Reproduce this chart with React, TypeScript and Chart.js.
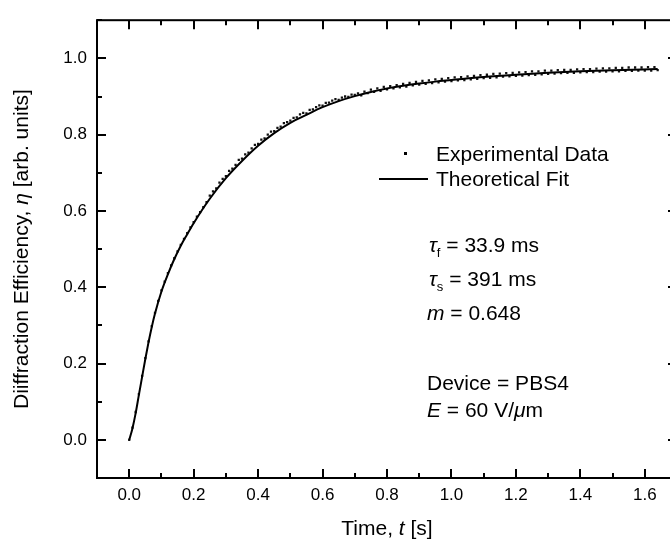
import React, { useEffect, useRef } from "react";
import { Chart, registerables } from "chart.js";

Chart.register(...registerables);

// ---- data ----
const fitTime = [0, 0.01, 0.02, 0.03, 0.04, 0.05, 0.06, 0.07, 0.08, 0.1, 0.12, 0.14, 0.16, 0.18, 0.2, 0.25, 0.3, 0.35, 0.4, 0.45, 0.5, 0.55, 0.6, 0.65, 0.7, 0.75, 0.8, 0.85, 0.9, 0.95, 1.0, 1.1, 1.2, 1.3, 1.4, 1.5, 1.64];
const fitValues = [0, 0.03, 0.07, 0.118, 0.165, 0.212, 0.256, 0.296, 0.331, 0.389, 0.434, 0.474, 0.509, 0.539, 0.568, 0.632, 0.686, 0.731, 0.771, 0.804, 0.831, 0.852, 0.872, 0.888, 0.901, 0.912, 0.921, 0.928, 0.934, 0.939, 0.943, 0.951, 0.957, 0.962, 0.966, 0.969, 0.972];

const expStart = 0;
const expStep = 0.01;
const expValues = [
  0.000, 0.032, 0.073, 0.120, 0.168, 0.214, 0.258, 0.298, 0.333, 0.364,
  0.392, 0.415, 0.437, 0.457, 0.476, 0.494, 0.511, 0.527, 0.542, 0.557,
  0.571, 0.585, 0.597, 0.610, 0.623,
  0.640, 0.651, 0.659, 0.674, 0.684, 0.691, 0.705, 0.711, 0.721, 0.734,
  0.737, 0.748, 0.753, 0.764, 0.773, 0.776, 0.787, 0.790, 0.800, 0.808,
  0.809, 0.818, 0.821, 0.830, 0.833, 0.837, 0.844, 0.845, 0.853, 0.857,
  0.856, 0.865, 0.866, 0.872, 0.877, 0.876, 0.883, 0.884, 0.889, 0.893,
  0.891, 0.897, 0.900, 0.899, 0.905, 0.904,
  0.908, 0.903, 0.913, 0.909, 0.918, 0.912, 0.921, 0.915, 0.925, 0.919,
  0.927, 0.921, 0.930, 0.924, 0.933, 0.926, 0.936, 0.929, 0.938, 0.931,
  0.941, 0.933, 0.942, 0.935, 0.945, 0.937, 0.946, 0.939, 0.948, 0.940,
  0.950, 0.942, 0.951, 0.943, 0.953, 0.945, 0.954, 0.946, 0.956, 0.948,
  0.957, 0.949, 0.959, 0.950, 0.960, 0.952, 0.961, 0.953, 0.962, 0.954,
  0.963, 0.955, 0.964, 0.956, 0.966, 0.957, 0.966, 0.958, 0.968, 0.959,
  0.968, 0.960, 0.969, 0.961, 0.970, 0.962, 0.970, 0.962, 0.971, 0.963,
  0.972, 0.964, 0.972, 0.964, 0.973, 0.965, 0.974, 0.965, 0.974, 0.966,
  0.975, 0.966, 0.975, 0.967, 0.976, 0.967, 0.976, 0.968, 0.976, 0.968,
  0.977, 0.968, 0.977, 0.969,
];

const xTickValues = [0, 0.2, 0.4, 0.6, 0.8, 1.0, 1.2, 1.4, 1.6];
const xMinorValues = [-0.1, 0.1, 0.3, 0.5, 0.7, 0.9, 1.1, 1.3, 1.5, 1.7];
const yTickValues = [0, 0.2, 0.4, 0.6, 0.8, 1.0];
const yMinorValues = [-0.1, 0.1, 0.3, 0.5, 0.7, 0.9, 1.1];

const legendLabels = ["Experimental Data", "Theoretical Fit"];

const FONT = '"Liberation Sans", Arial, Helvetica, sans-serif';

type Run = { text: string; font: string; dy?: number };

function runsWidth(ctx: CanvasRenderingContext2D, runs: Run[]) {
  let w = 0;
  for (const r of runs) {
    ctx.font = r.font;
    w += ctx.measureText(r.text).width;
  }
  return w;
}

function drawRuns(ctx: CanvasRenderingContext2D, runs: Run[], x: number, y: number, align: "left" | "center" = "left") {
  let cx = x;
  if (align === "center") cx = x - runsWidth(ctx, runs) / 2;
  ctx.textAlign = "left";
  ctx.textBaseline = "alphabetic";
  for (const r of runs) {
    ctx.font = r.font;
    ctx.fillText(r.text, cx, y + (r.dy || 0));
    cx += ctx.measureText(r.text).width;
  }
}

const framePlugin = {
  id: "framePlugin",
  afterDatasetsDraw(chart: any) {
    const ctx: CanvasRenderingContext2D = chart.ctx;
    const { left, right, top, bottom } = chart.chartArea;
    const xs = chart.scales.x;
    const ys = chart.scales.y;
    ctx.save();
    ctx.strokeStyle = "#000";
    ctx.fillStyle = "#000";
    ctx.lineWidth = 2;
    ctx.strokeRect(left, top, right - left, bottom - top);

    const major = 9;
    const minor = 5;
    ctx.beginPath();
    for (const v of xTickValues) {
      const p = Math.round(xs.getPixelForValue(v));
      ctx.moveTo(p, bottom); ctx.lineTo(p, bottom - major);
      ctx.moveTo(p, top); ctx.lineTo(p, top + major);
    }
    for (const v of xMinorValues) {
      const p = Math.round(xs.getPixelForValue(v));
      ctx.moveTo(p, bottom); ctx.lineTo(p, bottom - minor);
      ctx.moveTo(p, top); ctx.lineTo(p, top + minor);
    }
    for (const v of yTickValues) {
      const p = Math.round(ys.getPixelForValue(v));
      ctx.moveTo(left, p); ctx.lineTo(left + major, p);
      ctx.moveTo(right, p); ctx.lineTo(right - major, p);
    }
    for (const v of yMinorValues) {
      const p = Math.round(ys.getPixelForValue(v));
      ctx.moveTo(left, p); ctx.lineTo(left + minor, p);
      ctx.moveTo(right, p); ctx.lineTo(right - minor, p);
    }
    ctx.stroke();

    const f21 = `21px ${FONT}`;
    const i21 = `italic 21px ${FONT}`;
    const f13 = `13px ${FONT}`;

    // x title
    drawRuns(ctx, [
      { text: "Time, ", font: f21 },
      { text: "t", font: i21 },
      { text: " [s]", font: f21 },
    ], (left + right) / 2, 535, "center");

    // y title
    ctx.save();
    ctx.translate(28, (top + bottom) / 2);
    ctx.rotate(-Math.PI / 2);
    drawRuns(ctx, [
      { text: "Diiffraction Efficiency, ", font: f21 },
      { text: "\u03B7", font: i21 },
      { text: " [arb. units]", font: f21 },
    ], 0, 0, "center");
    ctx.restore();

    // legend
    ctx.fillRect(404, 152, 3, 3);
    ctx.lineWidth = 2;
    ctx.beginPath();
    ctx.moveTo(379, 179);
    ctx.lineTo(428, 179);
    ctx.stroke();
    drawRuns(ctx, [{ text: legendLabels[0], font: f21 }], 436, 161);
    drawRuns(ctx, [{ text: legendLabels[1], font: f21 }], 436, 186);

    // annotations
    drawRuns(ctx, [
      { text: "\u03C4", font: i21 },
      { text: "f", font: f13, dy: 5 },
      { text: " = 33.9 ms", font: f21 },
    ], 429, 252);
    drawRuns(ctx, [
      { text: "\u03C4", font: i21 },
      { text: "s", font: f13, dy: 5 },
      { text: " = 391 ms", font: f21 },
    ], 429, 286);
    drawRuns(ctx, [
      { text: "m", font: i21 },
      { text: " = 0.648", font: f21 },
    ], 427, 320);
    drawRuns(ctx, [{ text: "Device = PBS4", font: f21 }], 427, 390);
    drawRuns(ctx, [
      { text: "E", font: i21 },
      { text: " = 60 V/", font: f21 },
      { text: "\u03BC", font: i21 },
      { text: "m", font: f21 },
    ], 427, 417);

    ctx.restore();
  },
};

export default function App() {
  const ref = useRef<HTMLCanvasElement>(null);

  useEffect(() => {
    if (!ref.current) return;
    const expPoints = expValues.map((v, i) => ({ x: expStart + i * expStep, y: v }));
    const fitPoints = fitValues.map((v, i) => ({ x: fitTime[i], y: v }));
    const chart = new Chart(ref.current, {
      type: "scatter",
      data: {
        datasets: [
          {
            label: legendLabels[1],
            data: fitPoints,
            showLine: true,
            borderColor: "#000",
            borderWidth: 2,
            pointRadius: 0,
            cubicInterpolationMode: "monotone",
            fill: false,
          } as any,
          {
            label: legendLabels[0],
            data: expPoints,
            showLine: false,
            pointStyle: "rect",
            pointRadius: 1.6,
            pointBorderWidth: 0,
            backgroundColor: "#111",
            borderColor: "#111",
          } as any,
        ],
      },
      options: {
        responsive: false,
        animation: false,
        devicePixelRatio: 1,
        layout: { padding: { top: 9, right: 13, left: 0, bottom: 0 } },
        plugins: {
          legend: { display: false },
          tooltip: { enabled: false },
          title: { display: false },
        },
        scales: {
          x: {
            type: "linear",
            min: -0.1,
            max: 1.7,
            afterBuildTicks: (s: any) => {
              s.ticks = xTickValues.map((v) => ({ value: v }));
            },
            afterFit: (s: any) => {
              s.height = 64;
            },
            grid: { display: false, drawTicks: false },
            border: { display: false },
            ticks: {
              color: "#000",
              font: { family: FONT, size: 17 },
              padding: 7,
              maxRotation: 0,
              autoSkip: false,
              callback: (v: any) => Number(v).toFixed(1),
            },
          },
          y: {
            type: "linear",
            min: -0.1,
            max: 1.1,
            afterBuildTicks: (s: any) => {
              s.ticks = yTickValues.map((v) => ({ value: v }));
            },
            afterFit: (s: any) => {
              s.width = 97;
            },
            grid: { display: false, drawTicks: false },
            border: { display: false },
            ticks: {
              color: "#000",
              font: { family: FONT, size: 17 },
              padding: 10,
              autoSkip: false,
              callback: (v: any) => Number(v).toFixed(1),
            },
          },
        },
      },
      plugins: [framePlugin],
    });
    return () => chart.destroy();
  }, []);

  return (
    <div style={{ position: "fixed", left: 0, top: 0, width: 670, height: 542, overflow: "hidden", background: "#fff" }}>
      <canvas ref={ref} width={690} height={542} style={{ display: "block", width: 690, height: 542 }} />
    </div>
  );
}
